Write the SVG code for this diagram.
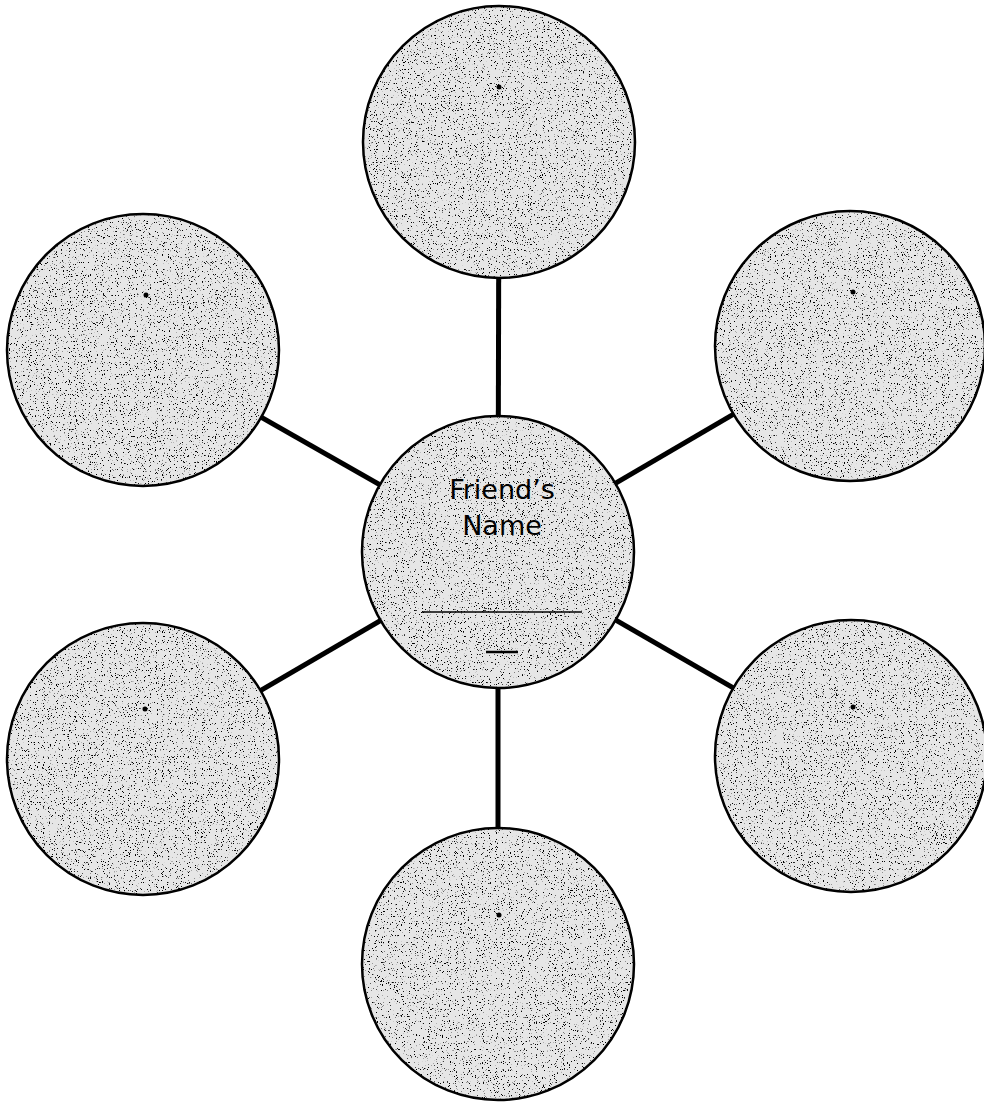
<svg xmlns="http://www.w3.org/2000/svg" width="984" height="1102" viewBox="0 0 984 1102">
  <style>
    .base { fill: #e6e6e6; }
    .tex { fill: #111; filter: url(#speckle); }
    .ring { fill: none; stroke: #000; stroke-width: 2.5; }
    .conn { stroke: #000; stroke-width: 5; }
    .dot { fill: #000; }
    .lbl { font-family: "DejaVu Sans", "Liberation Sans", sans-serif; font-size: 27px; fill: #000; text-anchor: middle; }
  </style>
  <defs>
    <filter id="speckle" x="0" y="0" width="100%" height="100%" filterUnits="objectBoundingBox">
      <feTurbulence type="fractalNoise" baseFrequency="0.85" numOctaves="2" seed="7" result="n"/>
      <feColorMatrix in="n" type="matrix" values="0 0 0 0 0  0 0 0 0 0  0 0 0 0 0  14 0 0 0 -9.0" result="dots"/>
      <feComposite in="dots" in2="SourceGraphic" operator="in"/>
    </filter>
  </defs>
  <rect width="984" height="1102" fill="#fff"/>
  <g id="connectors">
    <line class="conn" x1="498" y1="552" x2="499" y2="142"/>
    <line class="conn" x1="498" y1="552" x2="143" y2="350"/>
    <line class="conn" x1="498" y1="552" x2="850" y2="346"/>
    <line class="conn" x1="498" y1="552" x2="143" y2="759"/>
    <line class="conn" x1="498" y1="552" x2="851" y2="756"/>
    <line class="conn" x1="498" y1="552" x2="498" y2="964"/>
  </g>
  <g id="node-top">
    <circle class="base" cx="499" cy="142" r="136"/>
    <circle class="tex" cx="499" cy="142" r="136"/>
    <circle class="ring" cx="499" cy="142" r="136"/>
    <circle class="dot" cx="499" cy="87" r="2.5"/>
  </g>
  <g id="node-top-left">
    <circle class="base" cx="143" cy="350" r="136"/>
    <circle class="tex" cx="143" cy="350" r="136"/>
    <circle class="ring" cx="143" cy="350" r="136"/>
    <circle class="dot" cx="146" cy="295" r="2.5"/>
  </g>
  <g id="node-top-right">
    <circle class="base" cx="850" cy="346" r="135"/>
    <circle class="tex" cx="850" cy="346" r="135"/>
    <circle class="ring" cx="850" cy="346" r="135"/>
    <circle class="dot" cx="853" cy="292" r="2.5"/>
  </g>
  <g id="node-bottom-left">
    <circle class="base" cx="143" cy="759" r="136"/>
    <circle class="tex" cx="143" cy="759" r="136"/>
    <circle class="ring" cx="143" cy="759" r="136"/>
    <circle class="dot" cx="145" cy="709" r="2.5"/>
  </g>
  <g id="node-bottom-right">
    <circle class="base" cx="851" cy="756" r="136"/>
    <circle class="tex" cx="851" cy="756" r="136"/>
    <circle class="ring" cx="851" cy="756" r="136"/>
    <circle class="dot" cx="853" cy="707" r="2.5"/>
  </g>
  <g id="node-bottom">
    <circle class="base" cx="498" cy="964" r="136"/>
    <circle class="tex" cx="498" cy="964" r="136"/>
    <circle class="ring" cx="498" cy="964" r="136"/>
    <circle class="dot" cx="499" cy="915" r="2.5"/>
  </g>
  <g id="node-center">
    <circle class="base" cx="498" cy="552" r="136"/>
    <circle class="tex" cx="498" cy="552" r="136"/>
    <circle class="ring" cx="498" cy="552" r="136"/>
    <text class="lbl" x="502" y="499">Friend’s</text>
    <text class="lbl" x="502" y="535">Name</text>
    <line x1="422" y1="612" x2="582" y2="612" stroke="#000" stroke-width="1.6"/>
    <line x1="486" y1="652" x2="518" y2="652" stroke="#000" stroke-width="2.5"/>
  </g>
</svg>
